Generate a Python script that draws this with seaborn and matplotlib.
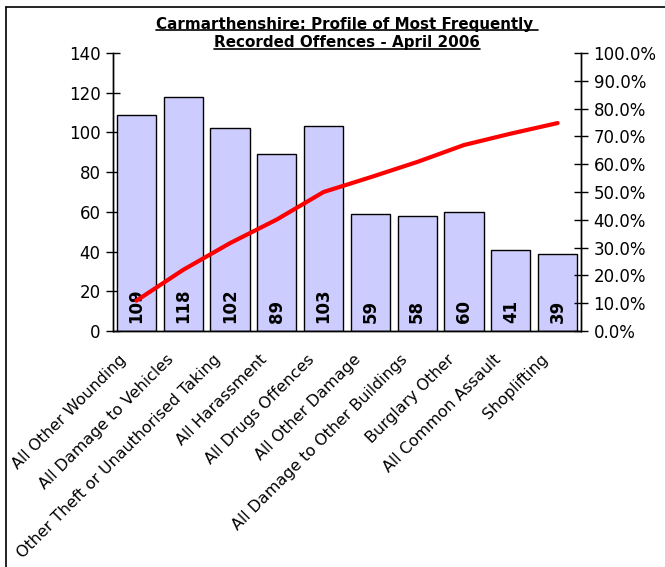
import numpy as np
import pandas as pd
import matplotlib
matplotlib.use("Agg")
import matplotlib.pyplot as plt
import matplotlib.transforms as mtransforms
from matplotlib.lines import Line2D
import seaborn as sns

offences = ['All Other Wounding', 'All Damage to Vehicles',
            'Other Theft or Unauthorised Taking', 'All Harassment',
            'All Drugs Offences', 'All Other Damage',
            'All Damage to Other Buildings', 'Burglary Other',
            'All Common Assault', 'Shoplifting']
counts = [109, 118, 102, 89, 103, 59, 58, 60, 41, 39]
cum_pct = [10.9, 22.0, 31.6, 40.1, 50.0, 55.3, 60.8, 66.9, 71.0, 74.8]
left_ticks = [0, 20, 40, 60, 80, 100, 120, 140]
right_ticks = [0, 10, 20, 30, 40, 50, 60, 70, 80, 90, 100]

df = pd.DataFrame({'offence': offences, 'count': counts, 'pct': cum_pct})
df['pos'] = np.arange(len(df))

sns.set_style("white")
plt.rcParams['font.family'] = ['DejaVu Sans']
plt.rcParams['text.color'] = 'black'
plt.rcParams['xtick.color'] = 'black'
plt.rcParams['ytick.color'] = 'black'

fig = plt.figure(figsize=(6.65, 5.67), dpi=100)
ax = fig.add_axes([113 / 665, 1 - 331 / 567, (581 - 113) / 665, (331 - 53) / 567])

sns.barplot(data=df, x='pos', y='count', color='#CCCCFF', saturation=1,
            edgecolor='black', linewidth=1, width=0.84, ax=ax)
ax.set_xlim(-0.5, len(df) - 0.5)
ax.set_ylim(0, 140)
ax.set_yticks(left_ticks)
ax.set_yticklabels([str(t) for t in left_ticks], fontsize=12)
ax.set_xticks(np.arange(-0.5, len(df)))
ax.set_xticklabels([])
ax.tick_params(axis='x', direction='inout', length=10, width=1, color='black')
ax.tick_params(axis='y', direction='inout', length=10, width=1, color='black', pad=4)
ax.set_xlabel('')
ax.set_ylabel('')

# category labels, slanted, ending a little left of each bar centre
shift = mtransforms.ScaledTranslation(-12 / 100, -26 / 100, fig.dpi_scale_trans)
for p, name in zip(df['pos'], df['offence']):
    ax.text(p, 0, name, transform=ax.get_xaxis_transform() + shift,
            rotation=45, ha='right', va='center', rotation_mode='anchor',
            fontsize=11.4)

for p, v in zip(df['pos'], df['count']):
    ax.text(p, 4, str(v), rotation=90, ha='center', va='bottom',
            fontsize=12, fontweight='bold', color='black')

ax2 = ax.twinx()
sns.lineplot(data=df, x='pos', y='pct', color='red', linewidth=3, ax=ax2)
ax2.set_ylim(0, 100)
ax2.set_yticks(right_ticks)
ax2.set_yticklabels(['{:.1f}%'.format(t) for t in right_ticks], fontsize=12)
ax2.tick_params(axis='y', direction='inout', length=10, width=1, color='black', pad=4)
ax2.set_ylabel('')
ax2.set_xlabel('')

for a in (ax, ax2):
    a.spines['top'].set_visible(False)
    for s in ('left', 'right', 'bottom'):
        a.spines[s].set_color('black')
        a.spines[s].set_linewidth(1)

# two-line underlined title
t1 = fig.text(347 / 665, 1 - 24 / 567, 'Carmarthenshire: Profile of Most Frequently ',
              ha='center', va='center', fontsize=10.9, fontweight='bold')
t2 = fig.text(347 / 665, 1 - 43 / 567, 'Recorded Offences - April 2006',
              ha='center', va='center', fontsize=10.9, fontweight='bold')
fig.canvas.draw()
r = fig.canvas.get_renderer()
for t in (t1, t2):
    bb = t.get_window_extent(r).transformed(fig.transFigure.inverted())
    fig.add_artist(Line2D([bb.x0, bb.x1], [bb.y0 + 0.002, bb.y0 + 0.002],
                          color='black', linewidth=1.2, transform=fig.transFigure))

# chart-area border (left and top edges)
fig.add_artist(Line2D([6 / 665, 6 / 665], [0, 1 - 7 / 567], color='black',
                      linewidth=1.2, transform=fig.transFigure))
fig.add_artist(Line2D([6 / 665, 1], [1 - 7 / 567, 1 - 7 / 567], color='black',
                      linewidth=1.2, transform=fig.transFigure))

fig.savefig('out.png', dpi=100)
